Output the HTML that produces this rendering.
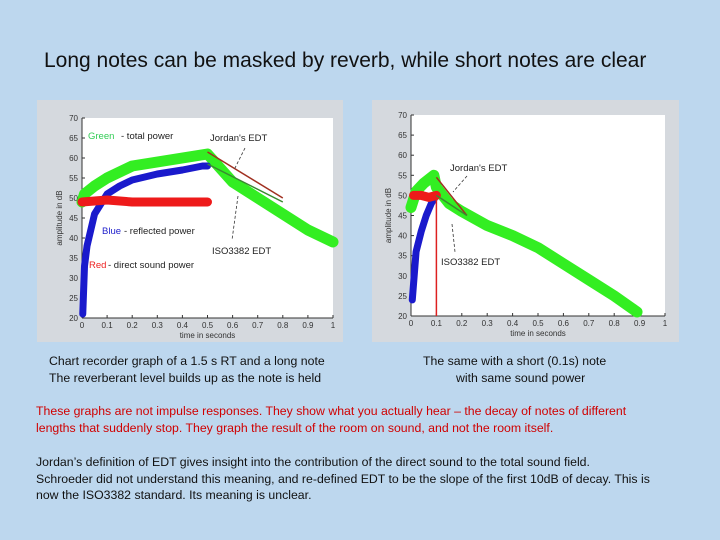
<!DOCTYPE html>
<html><head><meta charset="utf-8"><style>
html,body{margin:0;padding:0}
body{width:720px;height:540px;background:#bdd7ee;position:relative;overflow:hidden;font-family:"Liberation Sans Narrow","Liberation Sans",sans-serif}
.t{position:absolute;white-space:nowrap;font-size:12.3px;color:#111}
#title{position:absolute;left:44px;top:49px;font-size:21px;font-family:"Liberation Sans Narrow","Liberation Sans",sans-serif;color:#111;white-space:nowrap}
svg{position:absolute;left:0;top:0}
</style></head><body>
<div id="title">Long notes can be masked by reverb, while short notes are clear</div>
<svg id="chart" width="720" height="540"></svg>
<div class="t" style="left:49px;top:354px">Chart recorder graph of a 1.5 s RT and a long note</div>
<div class="t" style="left:49px;top:371px">The reverberant level builds up as the note is held</div>
<div class="t" style="left:423px;top:354px">The same with a short (0.1s) note</div>
<div class="t" style="left:456px;top:371px">with same sound power</div>
<div class="t" style="left:36px;top:404px;color:#d00000">These graphs are not impulse responses. They show what you actually hear – the decay of notes of different</div>
<div class="t" style="left:36px;top:421px;color:#d00000">lengths that suddenly stop. They graph the result of the room on sound, and not the room itself.</div>
<div class="t" style="left:36px;top:455px">Jordan’s definition of EDT gives insight into the contribution of the direct sound to the total sound field.</div>
<div class="t" style="left:36px;top:472px">Schroeder did not understand this meaning, and re-defined EDT to be the slope of the first 10dB of decay. This is</div>
<div class="t" style="left:36px;top:488px">now the ISO3382 standard. Its meaning is unclear.</div>
<script>
// Left chart data (time s, dB)
const leftGreenT=[0,0.01,0.05,0.1,0.2,0.3,0.4,0.5,0.6,0.7,0.8,0.9,1.0];
const leftGreenV=[49,51,53,55,58,59,60,61,54,50,46,42,39];
const leftBlueT=[0.003,0.01,0.02,0.05,0.1,0.15,0.2,0.3,0.4,0.48,0.5];
const leftBlueV=[21,33,38,46,51,53,54.5,56,57,58,58];
const leftRedT=[0.0,0.1,0.2,0.3,0.4,0.5];
const leftRedV=[49,49.5,49,49,49,49];
const leftJordan=[[0.5,61.5],[0.8,50]];
const leftISO=[[0.5,58.5],[0.8,49]];
// Right chart data
const rightGreenT=[0,0.02,0.05,0.09,0.1,0.15,0.2,0.3,0.4,0.5,0.6,0.7,0.8,0.89];
const rightGreenV=[47,51,53,55,52,48,46,42.5,40,37,33,29,25,21];
const rightBlueT=[0.005,0.02,0.04,0.06,0.08,0.1];
const rightBlueV=[24,36,41,45,48,50];
const rightRedT=[0.01,0.04,0.07,0.1];
const rightRedV=[50,50,49.5,50];
const rightJordan=[[0.1,54.5],[0.22,45]];
const rightISO=[[0.1,50],[0.22,45]];
const xTicks=[0,0.1,0.2,0.3,0.4,0.5,0.6,0.7,0.8,0.9,1];
const xTickLabels=["0","0.1","0.2","0.3","0.4","0.5","0.6","0.7","0.8","0.9","1"];
const yTicks=[20,25,30,35,40,45,50,55,60,65,70];

const NS="http://www.w3.org/2000/svg";
const svg=document.getElementById('chart');
function el(tag,attrs,parent){const e=document.createElementNS(NS,tag);for(const k in attrs)e.setAttribute(k,attrs[k]);(parent||svg).appendChild(e);return e;}

function drawChart(cfg){
  const g=el('g',{});
  
  
  const bg=el('rect',{x:cfg.px,y:cfg.py,width:cfg.pw,height:cfg.ph,fill:'#d5d9de'},g);
  
  
  const X=t=>cfg.x0+(cfg.x1-cfg.x0)*t;
  const Y=v=>cfg.y1-(cfg.y1-cfg.y0)*(v-20)/50;
  const plot=el('rect',{x:cfg.x0,y:cfg.y0,width:cfg.x1-cfg.x0,height:cfg.y1-cfg.y0,fill:'#fff'},g);
  
  
  el('line',{x1:cfg.x0,y1:cfg.y0,x2:cfg.x0,y2:cfg.y1,stroke:'#333','stroke-width':1},g);
  el('line',{x1:cfg.x0,y1:cfg.y1,x2:cfg.x1,y2:cfg.y1,stroke:'#333','stroke-width':1},g);
  xTicks.forEach((t,i)=>{
    el('line',{x1:X(t),y1:cfg.y1,x2:X(t),y2:cfg.y1-3,stroke:'#333'},g);
    const tx=el('text',{x:X(t),y:cfg.y1+10,'font-size':8,'text-anchor':'middle',fill:'#333','font-family':'Liberation Sans,sans-serif'},g);
    tx.textContent=xTickLabels[i];
    
    
  });
  yTicks.forEach(v=>{
    el('line',{x1:cfg.x0,y1:Y(v),x2:cfg.x0+3,y2:Y(v),stroke:'#333'},g);
    const tx=el('text',{x:cfg.x0-4,y:Y(v)+3,'font-size':8,'text-anchor':'end',fill:'#333','font-family':'Liberation Sans,sans-serif'},g);
    tx.textContent=v;
    
    
  });
  const xl=el('text',{x:(cfg.x0+cfg.x1)/2,y:cfg.y1+20,'font-size':8,'text-anchor':'middle',fill:'#333','font-family':'Liberation Sans,sans-serif'},g);
  xl.textContent='time in seconds';
  
  
  const yl=el('text',{x:0,y:0,'font-size':8,'text-anchor':'middle',fill:'#333','font-family':'Liberation Sans,sans-serif',transform:`translate(${cfg.x0-20},${(cfg.y0+cfg.y1)/2}) rotate(-90)`},g);
  yl.textContent='amplitude in dB';
  
  
  function series(T,V,color,w,name){
    const p=el('polyline',{points:T.map((t,i)=>X(t)+','+Y(V[i])).join(' '),fill:'none',stroke:color,'stroke-width':w,'stroke-linejoin':'round','stroke-linecap':'round'},g);
    
    
  }
  series(cfg.gT,cfg.gV,'#33ee22',11,'green-total-power');
  series(cfg.bT,cfg.bV,'#1a1acc',7,'blue-reflected-power');
  series(cfg.rT,cfg.rV,'#ee1a1a',9,'red-direct-power');
  if(cfg.redDrop){
    const d=el('line',{x1:X(0.1),y1:Y(cfg.rV[cfg.rV.length-1]),x2:X(0.1),y2:Y(20),stroke:'#dd2020','stroke-width':1.5},g);
    
    
  }
  const j=el('line',{x1:X(cfg.jor[0][0]),y1:Y(cfg.jor[0][1]),x2:X(cfg.jor[1][0]),y2:Y(cfg.jor[1][1]),stroke:'#a03020','stroke-width':1.5},g);
  
  
  const s=el('line',{x1:X(cfg.iso[0][0]),y1:Y(cfg.iso[0][1]),x2:X(cfg.iso[1][0]),y2:Y(cfg.iso[1][1]),stroke:'#3a8a30','stroke-width':1.5},g);
  
  
  cfg.labels.forEach(L=>{
    const tx=el('text',{x:L[0],y:L[1],'font-size':9.5,fill:L[3]||'#333','font-family':'Liberation Sans,sans-serif'},g);
    tx.textContent=L[2];
    
    
  });
  cfg.arrows.forEach(A=>{
    const a=el('line',{x1:A[0],y1:A[1],x2:A[2],y2:A[3],stroke:'#333','stroke-width':0.8,'stroke-dasharray':'3,2'},g);
    
    
  });
}
drawChart({name:'long-note-chart',px:37,py:100,pw:306,ph:242,x0:82,x1:333,y0:118,y1:318,
  gT:leftGreenT,gV:leftGreenV,bT:leftBlueT,bV:leftBlueV,rT:leftRedT,rV:leftRedV,jor:leftJordan,iso:leftISO,
  labels:[[88,139,'Green','#33cc55','legend-green'],[121,139,'- total power','#222','legend-green-text'],[210,141,"Jordan's EDT",'#222','jordan-label'],
          [102,234,'Blue','#2222cc','legend-blue'],[124,234,'- reflected power','#222','legend-blue-text'],
          [212,254,'ISO3382 EDT','#222','iso-label'],[89,268,'Red','#ee2222','legend-red'],[108,268,'- direct sound power','#222','legend-red-text']],
  arrows:[[245,148,234,170],[238,196,232,240]]});
drawChart({name:'short-note-chart',px:372,py:100,pw:307,ph:242,x0:411,x1:665,y0:115,y1:316,
  gT:rightGreenT,gV:rightGreenV,bT:rightBlueT,bV:rightBlueV,rT:rightRedT,rV:rightRedV,jor:rightJordan,iso:rightISO,redDrop:true,
  labels:[[450,171,"Jordan's EDT",'#222','jordan-label'],[441,265,'ISO3382 EDT','#222','iso-label']],
  arrows:[[467,176,453,192],[452,224,455,252]]});
</script>
</body></html>
